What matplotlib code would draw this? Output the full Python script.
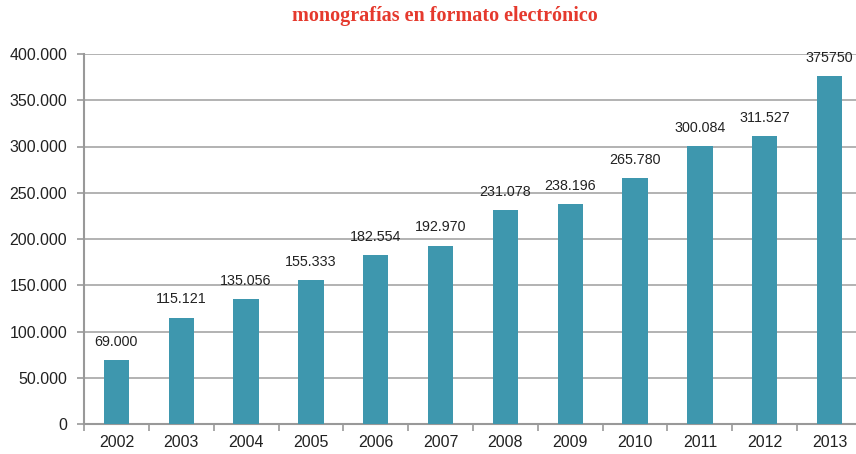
import matplotlib.pyplot as plt
from matplotlib.ticker import FixedLocator, FuncFormatter

years = ['2002', '2003', '2004', '2005', '2006', '2007', '2008', '2009', '2010', '2011', '2012', '2013']
values = [69000, 115121, 135056, 155333, 182554, 192970, 231078, 238196, 265780, 300084, 311527, 375750]
labels = ['69.000', '115.121', '135.056', '155.333', '182.554', '192.970', '231.078', '238.196',
          '265.780', '300.084', '311.527', '375750']

plt.rcParams['font.family'] = ['Liberation Sans', 'DejaVu Sans']

fig = plt.figure(figsize=(8.56, 4.54), dpi=100)
ax = fig.add_axes([84 / 856, 1 - 424 / 454, 778 / 856, 370 / 454])

x = list(range(len(years)))
ax.bar(x, values, width=0.39, color='#3e97ae', zorder=3)
for xi, v, lab in zip(x, values, labels):
    ax.text(xi, v + 12000, lab, ha='center', va='bottom', fontsize=10.3, color='#222222')

ax.set_xlim(-0.5, len(years) - 0.5)
ax.set_ylim(0, 400000)
ax.set_yticks(range(0, 400001, 50000))
ax.yaxis.set_major_formatter(FuncFormatter(lambda v, p: '0' if v == 0 else f'{int(v):,}'.replace(',', '.')))
ax.yaxis.grid(True, color='#a6a6a6', linewidth=1.2, zorder=0)

ax.set_xticks(x)
ax.set_xticklabels(years)
ax.xaxis.set_minor_locator(FixedLocator([i - 0.5 for i in range(len(years) + 1)]))
ax.tick_params(axis='x', which='major', length=0, pad=8, labelsize=11.5, labelcolor='#222222')
ax.tick_params(axis='x', which='minor', length=5, color='#999999', width=1.2)
ax.tick_params(axis='y', length=5, color='#999999', width=1.2, labelsize=11.5, labelcolor='#222222', pad=7)

for s in ['top', 'right']:
    ax.spines[s].set_visible(False)
for s in ['left', 'bottom']:
    ax.spines[s].set_color('#999999')
    ax.spines[s].set_linewidth(1.5)

fig.text(445 / 856, 1 - 16 / 454, 'monografías en formato electrónico', ha='center', va='center',
         fontsize=14.5, fontweight='bold', color='#e5392d', family='Liberation Serif')

fig.savefig('out.png', dpi=100)
